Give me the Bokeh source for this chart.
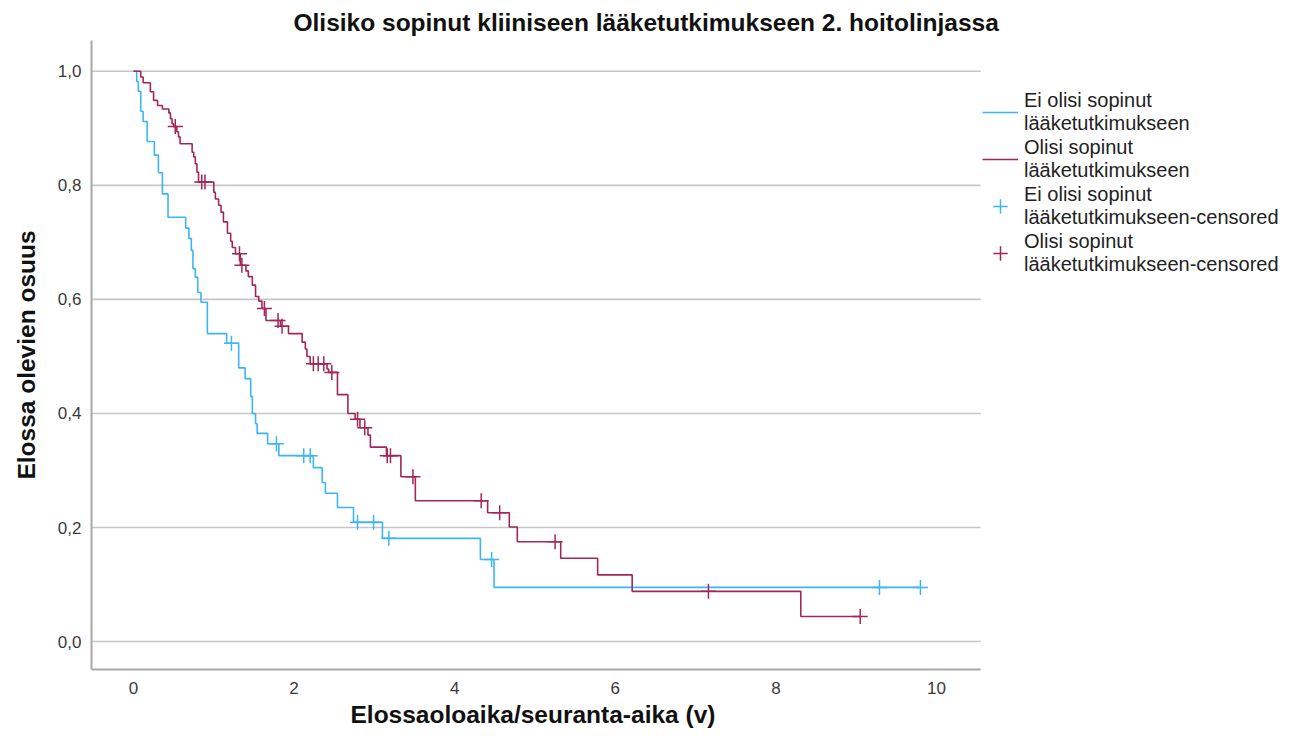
from bokeh.plotting import figure
from bokeh.models import Range1d, FixedTicker, Legend, LegendItem, Title
from bokeh.embed import file_html
from bokeh.resources import INLINE

# ---------------- data ----------------
title_text = "Olisiko sopinut kliiniseen lääketutkimukseen 2. hoitolinjassa"
x_label = "Elossaoloaika/seuranta-aika (v)"
y_label = "Elossa olevien osuus"

x_ticks = [0, 2, 4, 6, 8, 10]
x_tick_labels = ["0", "2", "4", "6", "8", "10"]
y_ticks = [0.0, 0.2, 0.4, 0.6, 0.8, 1.0]
y_tick_labels = ["0,0", "0,2", "0,4", "0,6", "0,8", "1,0"]

legend_labels = [
    "Ei olisi sopinut\nlääketutkimukseen",
    "Olisi sopinut\nlääketutkimukseen",
    "Ei olisi sopinut\nlääketutkimukseen-censored",
    "Olisi sopinut\nlääketutkimukseen-censored",
]

# "Ei olisi sopinut" survival steps
blue_t = [0.0, 0.04, 0.06, 0.09, 0.12, 0.17, 0.26, 0.31, 0.36, 0.43, 0.65, 0.69, 0.72,
          0.74, 0.77, 0.80, 0.84, 0.92, 1.16, 1.31, 1.39, 1.46, 1.48, 1.52, 1.54, 1.67,
          1.81, 2.24, 2.35, 2.39, 2.54, 2.74, 3.10, 4.32, 4.49, 9.80]
blue_s = [1.0, 0.982, 0.965, 0.930, 0.912, 0.877, 0.853, 0.822, 0.785, 0.744, 0.725, 0.707,
          0.686, 0.654, 0.639, 0.612, 0.595, 0.540, 0.523, 0.480, 0.461, 0.430, 0.400, 0.382,
          0.365, 0.347, 0.326, 0.305, 0.279, 0.260, 0.235, 0.209, 0.181, 0.144, 0.095, 0.095]
blue_cens_t = [1.22, 1.78, 2.12, 2.20, 2.79, 2.99, 3.18, 4.46, 9.29, 9.80]
blue_cens_s = [0.523, 0.347, 0.326, 0.326, 0.209, 0.209, 0.181, 0.144, 0.095, 0.095]

# "Olisi sopinut" survival steps
red_t = [0.0, 0.09, 0.12, 0.21, 0.25, 0.30, 0.36, 0.44, 0.46, 0.48, 0.50, 0.54, 0.56, 0.58,
         0.73, 0.75, 0.77, 0.79, 0.81, 1.00, 1.02, 1.06, 1.09, 1.12, 1.17, 1.21, 1.23, 1.27,
         1.33, 1.40, 1.43, 1.48, 1.52, 1.56, 1.60, 1.65, 1.83, 1.93, 2.10, 2.14, 2.16, 2.20,
         2.41, 2.43, 2.54, 2.67, 2.76, 2.82, 2.92, 2.95, 3.15, 3.33, 3.51, 4.41, 4.68, 4.78,
         5.32, 5.78, 6.21, 8.31, 9.05]
red_s = [1.0, 0.990, 0.980, 0.964, 0.949, 0.940, 0.934, 0.927, 0.917, 0.908, 0.903, 0.894,
         0.885, 0.873, 0.858, 0.850, 0.838, 0.823, 0.806, 0.788, 0.776, 0.765, 0.753, 0.736,
         0.716, 0.702, 0.691, 0.680, 0.660, 0.650, 0.640, 0.625, 0.605, 0.597, 0.584, 0.563,
         0.553, 0.540, 0.525, 0.513, 0.500, 0.487, 0.478, 0.472, 0.433, 0.400, 0.390, 0.375,
         0.362, 0.341, 0.326, 0.289, 0.247, 0.226, 0.201, 0.175, 0.146, 0.117, 0.088, 0.044,
         0.044]
red_cens_t = [0.52, 0.85, 0.89, 1.32, 1.35, 1.63, 1.80, 1.85, 2.24, 2.30, 2.37, 2.47, 2.79,
              2.88, 3.16, 3.20, 3.48, 4.33, 4.56, 5.25, 7.16, 9.05]
red_cens_s = [0.903, 0.806, 0.806, 0.680, 0.660, 0.584, 0.563, 0.553, 0.487, 0.487, 0.487,
              0.472, 0.390, 0.375, 0.326, 0.326, 0.289, 0.247, 0.226, 0.175, 0.088, 0.044]

# ---------------- style / layout ----------------
BLUE = "#3db5f5"
RED = "#a3265a"
FONT = "Liberation Sans"

X_START, X_AXIS_END = -0.523, 10.55      # plotted x extent (axis + grid)
PX_PER_UNIT = 80.3                        # horizontal scale
FRAME_W = 1281 - 91 - 2                   # frame also hosts the legend area
X_END = X_START + FRAME_W / PX_PER_UNIT

p = figure(width=1281, height=735, output_backend="svg", toolbar_location=None,
           x_range=Range1d(X_START, X_END), y_range=Range1d(-0.049, 1.054),
           min_border_left=91, min_border_right=2, min_border_top=40,
           min_border_bottom=66)
p.outline_line_color = None
p.background_fill_color = "white"
p.border_fill_color = "white"

p.title.text = title_text
p.title.align = "left"
p.title.offset = 202
p.title.text_font = FONT
p.title.text_font_size = "24.5px"
p.title.text_font_style = "bold"
p.title.text_color = "#111111"
p.title.standoff = 10

p.xgrid.visible = False
p.ygrid.visible = False
# horizontal grid lines restricted to the plotting area
p.segment(x0=X_START, x1=X_AXIS_END, y0=y_ticks, y1=y_ticks,
          line_color="#c6c6c6", line_width=1.6)

for ax in (p.xaxis[0], p.yaxis[0]):
    ax.axis_line_color = "#a8a8a8"
    ax.axis_line_width = 2
    ax.major_tick_line_color = None
    ax.minor_tick_line_color = None
    ax.major_tick_out = 0
    ax.major_tick_in = 0
    ax.minor_tick_out = 0
    ax.minor_tick_in = 0
    ax.major_label_text_font = FONT
    ax.major_label_text_font_size = "17px"
    ax.major_label_text_color = "#3a3a3a"
    ax.axis_label_text_font = FONT
    ax.axis_label_text_font_style = "bold"
    ax.axis_label_text_font_size = "24.5px"
    ax.axis_label_text_color = "#111111"

p.xaxis.bounds = (X_START, X_AXIS_END)
p.xaxis.ticker = FixedTicker(ticks=x_ticks)
p.xaxis.major_label_overrides = {t: s for t, s in zip(x_ticks, x_tick_labels)}
p.xaxis.major_label_standoff = 12

p.yaxis.ticker = FixedTicker(ticks=y_ticks)
p.yaxis.major_label_overrides = {t: s for t, s in zip(y_ticks, y_tick_labels)}
p.yaxis.major_label_standoff = 10
p.yaxis.axis_label = y_label
p.yaxis.axis_label_standoff = 15

# x-axis title, positioned under the plotting area (not under the legend area)
p.add_layout(Title(text=x_label, align="left", offset=259, text_font=FONT,
                   text_font_size="24.5px", text_font_style="bold",
                   vertical_align="bottom", text_color="#111111", standoff=4), "below")

# ---------------- curves ----------------
r_blue = p.step(blue_t, blue_s, mode="after", line_color=BLUE, line_width=1.6)
r_red = p.step(red_t, red_s, mode="after", line_color=RED, line_width=1.6)
c_blue = p.scatter(blue_cens_t, blue_cens_s, marker="cross", size=15, line_color=BLUE,
                   line_width=1.5)
c_red = p.scatter(red_cens_t, red_cens_s, marker="cross", size=15, line_color=RED,
                  line_width=1.5)
# empty line renderers only used for the legend swatches of the censored entries
l_blue = p.line([], [], line_color=BLUE, line_width=1.6)
l_red = p.line([], [], line_color=RED, line_width=1.6)

legend = Legend(items=[
    LegendItem(label=legend_labels[0], renderers=[r_blue]),
    LegendItem(label=legend_labels[1], renderers=[r_red]),
    LegendItem(label=legend_labels[2], renderers=[l_blue, c_blue]),
    LegendItem(label=legend_labels[3], renderers=[l_red, c_red]),
], location=(891, 393))
legend.label_text_font = FONT
legend.label_text_font_size = "20px"
legend.label_text_line_height = 0.97
legend.label_text_color = "#222222"
legend.label_standoff = 6
legend.glyph_width = 36
legend.glyph_height = 40
legend.label_height = 40
legend.spacing = 1
legend.padding = 0
legend.margin = 0
legend.border_line_color = None
legend.background_fill_alpha = 0
p.add_layout(legend, "center")

open("out.html", "w").write(file_html(p, INLINE))
